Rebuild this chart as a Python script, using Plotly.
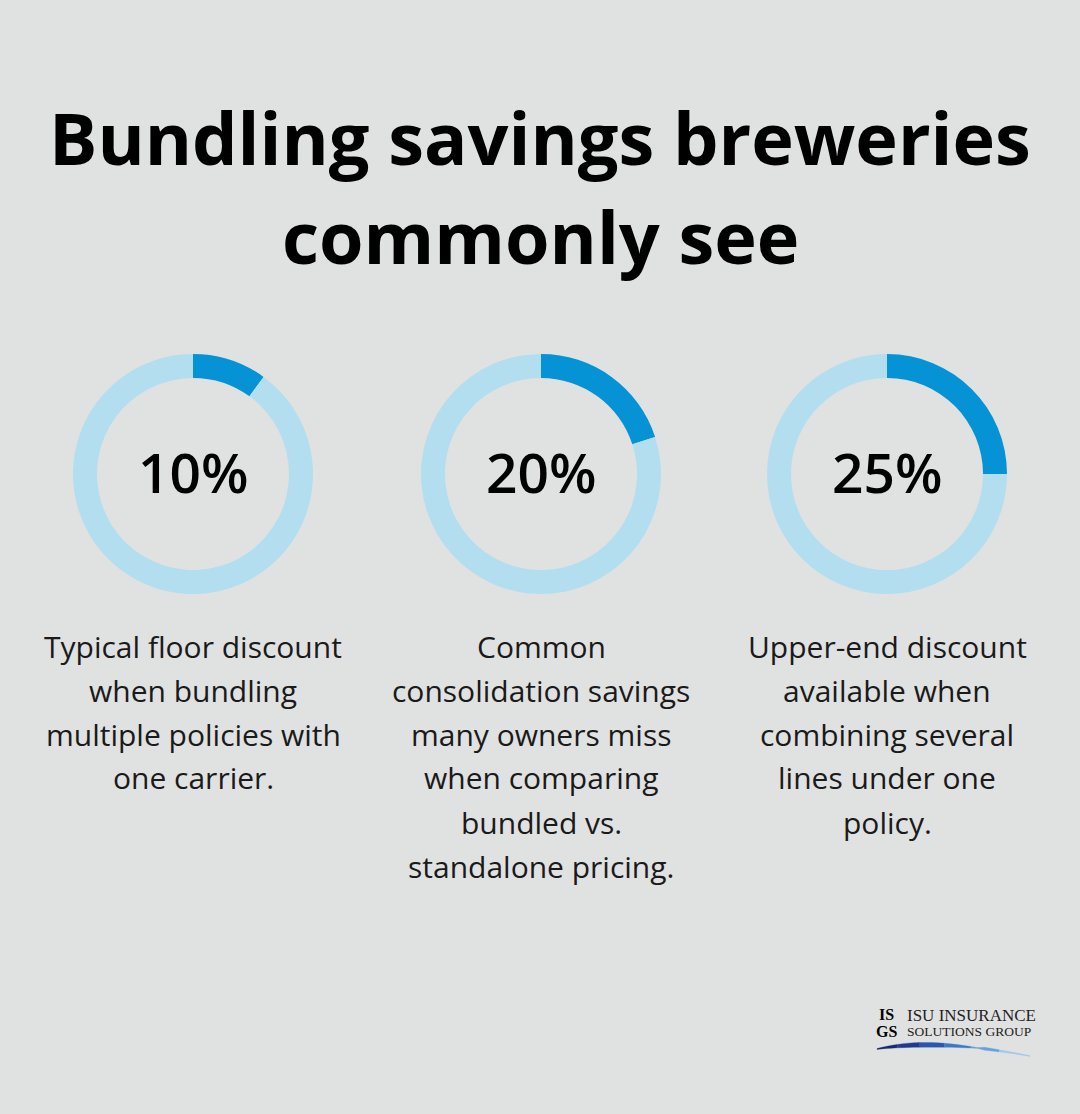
import math
import plotly.graph_objects as go

W, H = 1080, 1114

title_lines = ["Bundling savings breweries", "commonly see"]
percent_values = [10, 20, 25]
percent_labels = ["10%", "20%", "25%"]
descriptions = [
    ["Typical floor discount", "when bundling", "multiple policies with", "one carrier."],
    ["Common", "consolidation savings", "many owners miss", "when comparing", "bundled vs.", "standalone pricing."],
    ["Upper-end discount", "available when", "combining several", "lines under one", "policy."],
]

BG = "#E0E2E1"
DARK = "#0593D6"
LIGHT = "#B3DEF0"
FONT = "Open Sans"

centers_x = [193, 541, 887]
center_y = 474
radius = 120


def px(x):
    return x / W


def py(y):
    return 1 - y / H


fig = go.Figure()

for i, v in enumerate(percent_values):
    cx = centers_x[i]
    fig.add_trace(go.Pie(
        values=[v, 100 - v],
        marker=dict(colors=[DARK, LIGHT], line=dict(width=0)),
        hole=0.8,
        sort=False,
        direction="clockwise",
        rotation=0,
        textinfo="none",
        hoverinfo="skip",
        showlegend=False,
        domain=dict(x=[px(cx - radius), px(cx + radius)],
                    y=[py(center_y + radius), py(center_y - radius)]),
    ))

annotations = []
# Title
for j, line in enumerate(title_lines):
    annotations.append(dict(
        text=f"<b>{line}</b>", x=0.5, y=py(137 + j * 99), xref="paper", yref="paper",
        xanchor="center", yanchor="middle", showarrow=False,
        font=dict(family=FONT, size=72, color="#000000"),
    ))

# Center labels
for i, lab in enumerate(percent_labels):
    annotations.append(dict(
        text=lab, x=px(centers_x[i]), y=py(471), xref="paper", yref="paper",
        xanchor="center", yanchor="middle", showarrow=False,
        font=dict(family=FONT, size=55, color="#000000", weight=600),
    ))

# Descriptions
for i, lines in enumerate(descriptions):
    for j, line in enumerate(lines):
        annotations.append(dict(
            text=line, x=px(centers_x[i]), y=py(646 + j * 44), xref="paper", yref="paper",
            xanchor="center", yanchor="middle", showarrow=False,
            font=dict(family=FONT, size=30, color="#1A1A1A"),
        ))

# Logo text
annotations.append(dict(
    text="ISU INSURANCE", x=px(905), y=py(1015), xref="paper", yref="paper",
    xanchor="left", yanchor="middle", showarrow=False,
    font=dict(family="Liberation Serif", size=17, color="#222222"),
))
annotations.append(dict(
    text="SOLUTIONS GROUP", x=px(905), y=py(1031), xref="paper", yref="paper",
    xanchor="left", yanchor="middle", showarrow=False,
    font=dict(family="Liberation Serif", size=13.5, color="#222222"),
))
annotations.append(dict(
    text="<b>IS</b>", x=px(886), y=py(1014), xref="paper", yref="paper",
    xanchor="center", yanchor="middle", showarrow=False,
    font=dict(family="Liberation Serif", size=16, color="#000000"),
))
annotations.append(dict(
    text="<b>GS</b>", x=px(886), y=py(1031), xref="paper", yref="paper",
    xanchor="center", yanchor="middle", showarrow=False,
    font=dict(family="Liberation Serif", size=16, color="#000000"),
))

# Swoosh decoration under logo: quadratic curve split into coloured pieces
shapes = []
P0, P1, P2 = (877, 1049), (935, 1038), (1030, 1056)
swoosh_colors = ["#1A2870", "#22398F", "#2C55AE", "#3E77C6", "#6AA0DA", "#A3C8EC"]
n = len(swoosh_colors)


def qpt(t):
    x = (1 - t) ** 2 * P0[0] + 2 * (1 - t) * t * P1[0] + t ** 2 * P2[0]
    y = (1 - t) ** 2 * P0[1] + 2 * (1 - t) * t * P1[1] + t ** 2 * P2[1]
    return x, y


def thick(t):
    return 0.4 + 2.0 * math.sin(math.pi * min(1, t * 1.4)) if t < 0.72 else 0.4 + 1.2 * (1 - t) / 0.28


for k in range(n):
    ts = [k / n + (1 / n) * s / 4 for s in range(5)]
    top = []
    bot = []
    for t in ts:
        x, y = qpt(t)
        h = thick(t)
        top.append((x, y - h))
        bot.append((x, y + h))
    pts = top + bot[::-1]
    path = "M " + " L ".join(f"{px(x):.5f} {py(y):.5f}" for x, y in pts) + " Z"
    shapes.append(dict(type="path", xref="paper", yref="paper", path=path,
                       fillcolor=swoosh_colors[k], line=dict(width=0.3, color=swoosh_colors[k])))

fig.update_layout(
    width=W, height=H,
    margin=dict(l=0, r=0, t=0, b=0),
    paper_bgcolor=BG, plot_bgcolor=BG,
    annotations=annotations,
    shapes=shapes,
    showlegend=False,
)

fig.write_html("out.html", config={"displayModeBar": False},
               post_script="document.body.style.margin='0';document.body.style.background='#E0E2E1';")
